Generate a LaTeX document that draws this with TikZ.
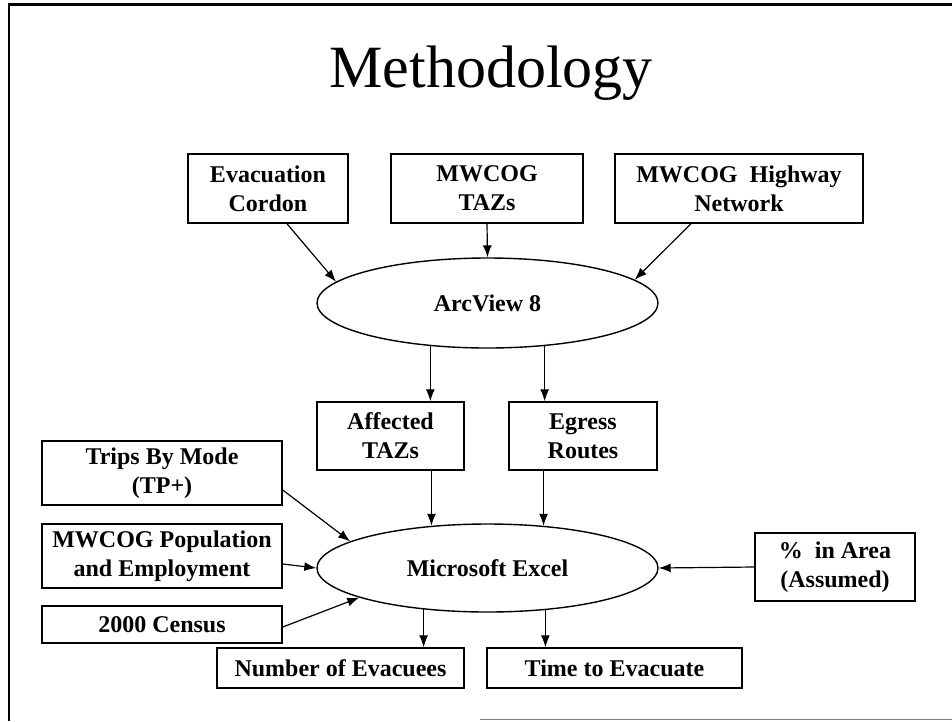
\documentclass[tikz,border=0pt]{standalone}
\usepackage{fontspec}
\setmainfont{Liberation Serif}
\usetikzlibrary{shapes,arrows.meta}

\begin{document}
\begin{tikzpicture}[x=1pt, y=-1pt,
    box/.style={draw, line width=1.5pt, inner sep=0pt, align=center, font=\fontsize{24}{29}\selectfont\bfseries},
    oval/.style={draw, ellipse, line width=1.4pt, inner sep=0pt, font=\fontsize{24}{29}\selectfont\bfseries},
    arr/.style={-{Latex[length=12pt,width=9pt]}, line width=1.2pt}]
      \useasboundingbox (0,0) rectangle (952,721);
      % Frame
      \draw[line width=2.6pt] (9,721) -- (9,4.5) -- (952,4.5);
      \draw[line width=1.2pt, gray] (480,719.5) -- (952,719.5);
      \node[anchor=base, font=\fontsize{60}{60}\selectfont] (title) at (491,87) {Methodology};

      % Inputs to ArcView
      \node[box, minimum width=160, minimum height=69] (evac) at (268,188.5) {Evacuation\\Cordon};
      \node[box, minimum width=192, minimum height=69] (tazs) at (487,188.5) {MWCOG\\TAZs};
      \node[box, minimum width=248, minimum height=69] (hwy) at (739,188.5) {MWCOG~\ Highway\\Network};
      \node[oval, minimum width=341, minimum height=90] (arcv) at (487.5,303) {ArcView 8};
      \draw[arr] ([xshift=19pt]evac.south) -- (arcv.172);
      \draw[arr] (tazs.south) -- (arcv.north);
      \draw[arr] ([xshift=-48pt]hwy.south) -- (arcv.9);

      % ArcView outputs
      \node[box, minimum width=147, minimum height=68] (aff) at (390.5,436) {Affected\\TAZs};
      \node[box, minimum width=148, minimum height=68] (egr) at (583,436) {Egress\\Routes};
      \draw[arr] (arcv.217) -- (arcv.217 |- aff.north);
      \draw[arr] (arcv.323) -- (arcv.323 |- egr.north);

      % Excel
      \node[oval, minimum width=341, minimum height=88] (excel) at (487.5,568) {Microsoft Excel};
      \node[box, minimum width=240, minimum height=64] (trips) at (162,473) {Trips By Mode\\(TP+)};
      \node[box, minimum width=240, minimum height=64] (pop) at (162,556) {MWCOG Population\\and Employment};
      \node[box, minimum width=240, minimum height=37] (census) at (162,624.5) {2000 Census};
      \node[box, minimum width=160, minimum height=68] (pct) at (835,567) {\%~\ in Area\\(Assumed)};
      \draw[arr] (aff.south -| excel.143) -- (excel.143);
      \draw[arr] (egr.south -| excel.37) -- (excel.37);
      \draw[arr] ([yshift=-17pt]trips.east) -- (excel.169);
      \draw[arr] ([yshift=-8pt]pop.east) -- (excel.west);
      \draw[arr] ([yshift=-2.5pt]census.east) -- (excel.193);
      \draw[arr] (pct.west) -- (excel.east);

      % Results
      \node[box, minimum width=247, minimum height=40] (num) at (340.5,668) {Number of Evacuees};
      \node[box, minimum width=255, minimum height=40] (time) at (614.5,668) {Time to Evacuate};
      \draw[arr] (excel.213) -- (excel.213 |- num.north);
      \draw[arr] (excel.324) -- (excel.324 |- time.north);
\end{tikzpicture}
\end{document}
